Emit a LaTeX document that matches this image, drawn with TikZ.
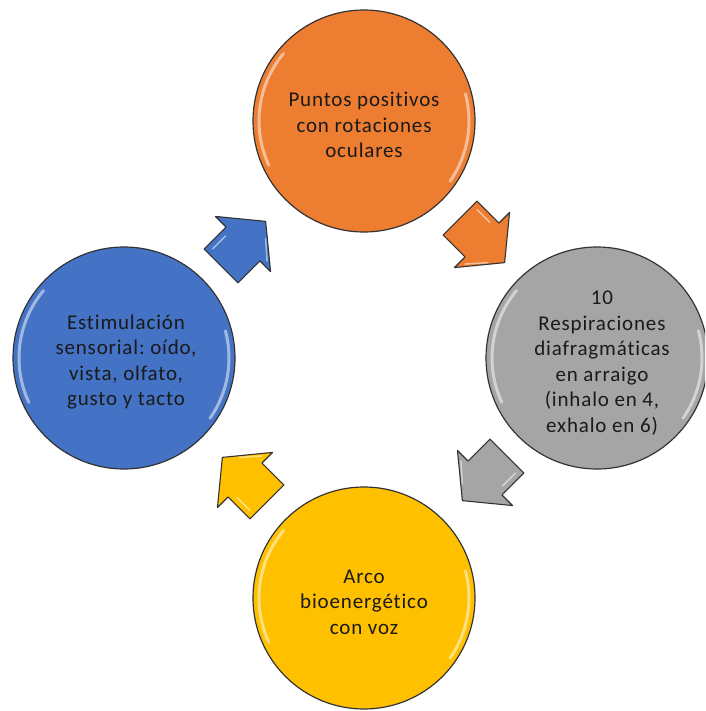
\documentclass[tikz,border=0pt]{standalone}
\usepackage{fontspec}
\setmainfont[LetterSpace=4, Ligatures={NoCommon}, RawFeature={-liga;-clig;-dlig}]{Carlito}
\frenchspacing
\definecolor{corange}{HTML}{ED7D31}
\definecolor{cgray}{HTML}{A5A5A5}
\definecolor{cyellow}{HTML}{FFC000}
\definecolor{cblue}{HTML}{4472C4}
\definecolor{ctext}{HTML}{1A1A1A}
\newcommand\glint[1]{%
  \begin{scope}[shift={(#1.center)}, y=1pt]
    \draw[hl] (140:105) arc[start angle=140, end angle=205, radius=105];
    \draw[hl] (-35:105) arc[start angle=-35, end angle=15, radius=105];
  \end{scope}}
\newcommand\blockarrow[2]{% coordinate name, angle
  \begin{scope}[shift={(#1)}, rotate=#2, y=1pt]
    \filldraw[arrowbody] (-31,-24) -- (0,-24) -- (0,-39) -- (32,0) -- (0,39) -- (0,24) -- (-31,24) -- cycle;
    \draw[hl, line width=1.5pt, opacity=0.5] (5,-29) -- (20,-12);
    \draw[hl, line width=1.5pt, opacity=0.5] (-25,18) -- (-7,18);
  \end{scope}}
\begin{document}
\begin{tikzpicture}[x=1pt, y=-1pt,
  bubble/.style={circle, minimum size=222pt, inner sep=0pt, draw=black!80, line width=1.2pt},
  caption/.style={text=ctext, font=\fontsize{21}{25.5}\selectfont, align=center, inner sep=0pt},
  hl/.style={draw=white, opacity=0.5, line width=3pt, line cap=round},
  arrowbody/.style={draw=black!80, line width=1.1pt, line join=round}]
\useasboundingbox (0,0) rectangle (705,711);
\clip (0,0) rectangle (705,711);

\node[bubble, fill=corange] (o) at (364,121) {};
\node[bubble, fill=cgray] (g) at (597,358) {};
\node[bubble, fill=cyellow] (y) at (364,598) {};
\node[bubble, fill=cblue] (b) at (124,358) {};
\glint{o}\glint{g}\glint{y}\glint{b}

\node[caption] (ot) at ([yshift=-4pt]o.center) {Puntos positivos\\con rotaciones\\oculares};
\node[caption] (gt) at ([xshift=5pt,yshift=-5pt]g.center) {10\\Respiraciones\\diafragmáticas\\en arraigo\\(inhalo en 4,\\exhalo en 6)};
\node[caption] (yt) at ([yshift=-4pt]y.center) {Arco\\bioenergético\\con voz};
\node[caption] (bt) at ([xshift=2pt,yshift=-4pt]b.center) {Estimulación\\sensorial: oído,\\vista, olfato,\\gusto y tacto};

\coordinate (ab) at (243,244);
\coordinate (ao) at (482,240);
\coordinate (ag) at (485,478);
\coordinate (ay) at (245,480);
\begin{scope}[arrowbody/.append style={fill=cblue}]\blockarrow{ab}{45}\end{scope}
\begin{scope}[arrowbody/.append style={fill=corange}]\blockarrow{ao}{-45}\end{scope}
\begin{scope}[arrowbody/.append style={fill=cgray}]\blockarrow{ag}{-135}\end{scope}
\begin{scope}[arrowbody/.append style={fill=cyellow}]\blockarrow{ay}{135}\end{scope}
\end{tikzpicture}
\end{document}
